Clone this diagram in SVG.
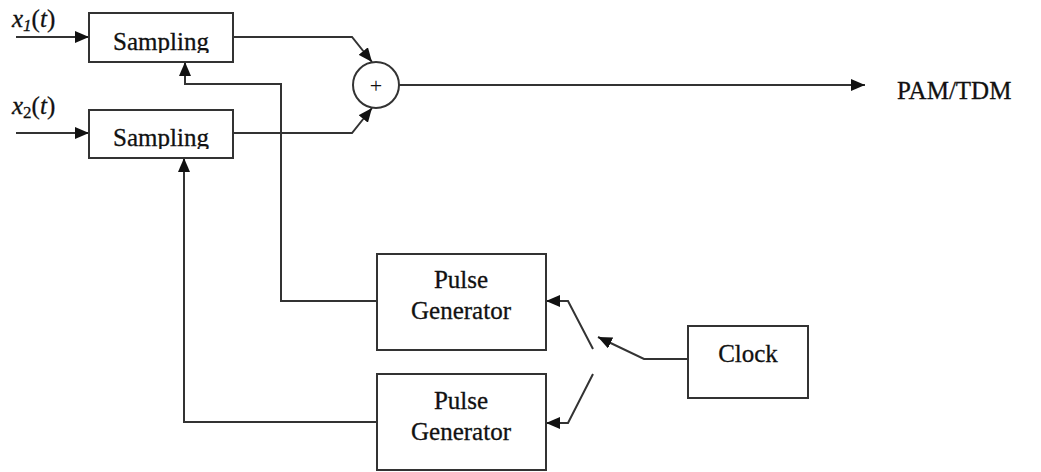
<svg xmlns="http://www.w3.org/2000/svg" width="1041" height="472" viewBox="0 0 1041 472">
  <style>
    .box { fill: #ffffff; stroke: #333333; stroke-width: 2; }
    .wire { fill: none; stroke: #333333; stroke-width: 2; }
    .lbl { font-family: "Liberation Serif", "Times New Roman", serif; font-size: 25px; fill: #111111; stroke: #111111; stroke-width: 0.3; }
    .mid { text-anchor: middle; }
  </style>
  <defs>
    <marker id="arr" viewBox="0 0 14 12" refX="14" refY="6" markerWidth="14" markerHeight="12" markerUnits="userSpaceOnUse" orient="auto">
      <path d="M0,0 L14,6 L0,12 Z" fill="#111111"/>
    </marker>
    <clipPath id="c1"><rect x="89" y="13" width="144" height="40"/></clipPath>
    <clipPath id="c2"><rect x="89" y="110" width="144" height="39"/></clipPath>
  </defs>
  <rect width="1041" height="472" fill="#ffffff"/>

  <g id="connectors">
    <path class="wire" d="M16,37 L89,37" marker-end="url(#arr)"/>
    <path class="wire" d="M16,133 L89,133" marker-end="url(#arr)"/>
    <path class="wire" d="M233,37 L352,37 L372,62" marker-end="url(#arr)"/>
    <path class="wire" d="M233,133 L352,133 L372,108" marker-end="url(#arr)"/>
    <path class="wire" d="M399,85 L865,85" marker-end="url(#arr)"/>
    <path class="wire" d="M377,301 L281,301 L281,84 L185,84 L185,62" marker-end="url(#arr)"/>
    <path class="wire" d="M377,422 L184,422 L184,158" marker-end="url(#arr)"/>
    <path class="wire" d="M593,349 L568,301 L546,301" marker-end="url(#arr)"/>
    <path class="wire" d="M593,374 L568,423 L546,423" marker-end="url(#arr)"/>
    <path class="wire" d="M688,359 L644,359 L598,337" marker-end="url(#arr)"/>
  </g>

  <g id="x1-label">
    <text class="lbl" x="12" y="27" font-size="27" font-style="italic">x<tspan font-size="17" dy="4">1</tspan><tspan dy="-4" font-style="normal">(</tspan>t<tspan font-style="normal">)</tspan></text>
  </g>
  <g id="x2-label">
    <text class="lbl" x="12" y="114" font-size="27" font-style="italic">x<tspan font-size="17" dy="4" font-style="normal">2</tspan><tspan dy="-4" font-style="normal">(</tspan>t<tspan font-style="normal">)</tspan></text>
  </g>

  <g id="sampling1">
    <rect class="box" x="89" y="13" width="144" height="49"/>
    <text class="lbl mid" x="161" y="50" clip-path="url(#c1)">Sampling</text>
  </g>
  <g id="sampling2">
    <rect class="box" x="89" y="110" width="144" height="48"/>
    <text class="lbl mid" x="161" y="146" clip-path="url(#c2)">Sampling</text>
  </g>

  <g id="adder">
    <circle cx="376" cy="85" r="23" fill="#ffffff" stroke="#333333" stroke-width="2"/>
    <text x="376" y="93" text-anchor="middle" font-family="Liberation Serif, serif" font-size="22" fill="#111111">+</text>
  </g>

  <g id="output-label">
    <text class="lbl" x="897" y="99" font-size="25">PAM/TDM</text>
  </g>

  <g id="pulse-gen1">
    <rect class="box" x="377" y="254" width="169" height="96"/>
    <text class="lbl mid" x="461" y="288" font-size="24">Pulse</text>
    <text class="lbl mid" x="461" y="319" font-size="24">Generator</text>
  </g>
  <g id="pulse-gen2">
    <rect class="box" x="377" y="374" width="169" height="96"/>
    <text class="lbl mid" x="461" y="409" font-size="24">Pulse</text>
    <text class="lbl mid" x="461" y="440" font-size="24">Generator</text>
  </g>

  <g id="clock">
    <rect class="box" x="688" y="326" width="120" height="72"/>
    <text class="lbl mid" x="748" y="362">Clock</text>
  </g>
</svg>
